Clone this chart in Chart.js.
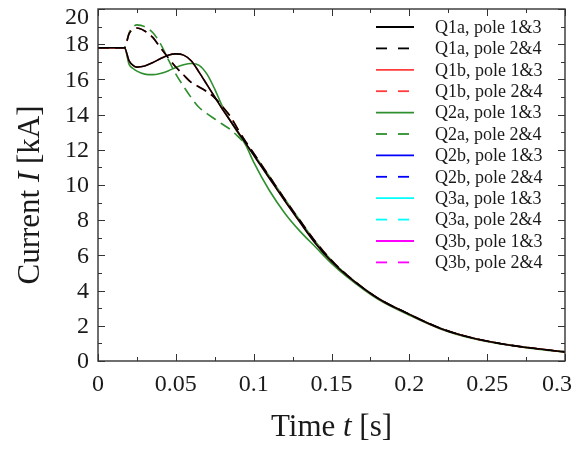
<!DOCTYPE html>
<html>
<head>
<meta charset="utf-8">
<script src="https://cdn.jsdelivr.net/npm/chart.js@4.4.1/dist/chart.umd.min.js"></script>
<style>
  html, body { margin: 0; padding: 0; background: #ffffff; }
  #wrap { width: 576px; height: 449px; position: relative; }
</style>
</head>
<body>
<div id="wrap"><canvas id="c" width="576" height="449"></canvas></div>
<script>
// ---- data ----
const timeS = [0, 0.01, 0.017, 0.02, 0.0225, 0.025, 0.03, 0.035, 0.04, 0.045, 0.05, 0.055, 0.06, 0.065, 0.07, 0.075, 0.08, 0.085, 0.09, 0.095, 0.1, 0.11, 0.12, 0.13, 0.14, 0.15, 0.16, 0.18, 0.2, 0.22, 0.24, 0.26, 0.28, 0.3];

const q1aPole13 = [17.8, 17.8, 17.8, 17.05, 16.8, 16.7, 16.76, 16.95, 17.17, 17.37, 17.45, 17.38, 17.05, 16.4, 15.7, 15.0, 14.3, 13.65, 13.0, 12.35, 11.7, 10.4, 9.1, 7.85, 6.65, 5.65, 4.85, 3.55, 2.65, 1.85, 1.32, 0.97, 0.72, 0.52];
const q1aPole24 = [17.8, 17.8, 17.8, 18.6, 18.85, 18.92, 18.75, 18.4, 17.82, 17.25, 16.7, 16.25, 15.82, 15.57, 15.3, 14.95, 14.45, 13.9, 13.15, 12.45, 11.8, 10.5, 9.2, 7.95, 6.75, 5.72, 4.88, 3.56, 2.66, 1.86, 1.32, 0.97, 0.72, 0.52];
const q1bPole13 = [17.78, 17.78, 17.78, 17.05, 16.8, 16.7, 16.76, 16.95, 17.17, 17.37, 17.45, 17.38, 17.05, 16.4, 15.7, 15.0, 14.3, 13.65, 13.0, 12.35, 11.7, 10.4, 9.1, 7.85, 6.65, 5.65, 4.85, 3.55, 2.65, 1.85, 1.32, 0.97, 0.72, 0.52];
const q1bPole24 = [17.78, 17.78, 17.78, 18.6, 18.85, 18.92, 18.75, 18.4, 17.82, 17.25, 16.7, 16.25, 15.82, 15.57, 15.3, 14.95, 14.45, 13.9, 13.15, 12.45, 11.8, 10.5, 9.2, 7.95, 6.75, 5.72, 4.88, 3.56, 2.66, 1.86, 1.32, 0.97, 0.72, 0.52];
const q2aPole13 = [17.8, 17.8, 17.8, 16.85, 16.62, 16.47, 16.3, 16.27, 16.34, 16.48, 16.68, 16.83, 16.9, 16.8, 16.3, 15.45, 14.45, 13.65, 12.95, 12.25, 11.3, 9.7, 8.4, 7.35, 6.45, 5.55, 4.78, 3.5, 2.6, 1.82, 1.29, 0.95, 0.7, 0.5];
const q2aPole24 = [17.8, 17.8, 17.8, 18.65, 18.98, 19.1, 19.0, 18.68, 18.05, 17.15, 16.3, 15.6, 14.95, 14.4, 14.05, 13.75, 13.45, 13.15, 12.75, 12.3, 11.75, 10.5, 9.2, 7.95, 6.75, 5.72, 4.88, 3.56, 2.66, 1.86, 1.32, 0.97, 0.72, 0.52];
const q2bPole13 = [];
const q2bPole24 = [];
const q3aPole13 = [];
const q3aPole24 = [];
const q3bPole13 = [];
const q3bPole24 = [];

const seriesNames = ['Q1a, pole 1&3', 'Q1a, pole 2&4', 'Q1b, pole 1&3', 'Q1b, pole 2&4', 'Q2a, pole 1&3', 'Q2a, pole 2&4', 'Q2b, pole 1&3', 'Q2b, pole 2&4', 'Q3a, pole 1&3', 'Q3a, pole 2&4', 'Q3b, pole 1&3', 'Q3b, pole 2&4'];
const seriesValues = [q1aPole13, q1aPole24, q1bPole13, q1bPole24, q2aPole13, q2aPole24, q2bPole13, q2bPole24, q3aPole13, q3aPole24, q3bPole13, q3bPole24];

const xTickValues = [0, 0.05, 0.1, 0.15, 0.2, 0.25, 0.3];
const xTickLabels = ['0', '0.05', '0.1', '0.15', '0.2', '0.25', '0.3'];
const yTickValues = [0, 2, 4, 6, 8, 10, 12, 14, 16, 18, 20];
const yTickLabels = ['0', '2', '4', '6', '8', '10', '12', '14', '16', '18', '20'];

// ---- styles ----
const seriesColors = ['#000000', '#000000', '#ff3b3b', '#ff3b3b', '#2e8f2e', '#2e8f2e', '#0000ff', '#0000ff', '#00ffff', '#00ffff', '#ff00ff', '#ff00ff'];
const SERIF = '"Liberation Serif", "DejaVu Serif", serif';
const TEXT = '#1a1a1a';

const datasets = seriesValues.map((vals, i) => ({
  label: seriesNames[i],
  data: vals.map((v, k) => ({ x: timeS[k], y: v })),
  borderColor: seriesColors[i],
  backgroundColor: seriesColors[i],
  borderWidth: 1.6,
  borderDash: i % 2 === 1 ? [11, 6] : [],
  pointRadius: 0,
  fill: false,
  cubicInterpolationMode: 'monotone'
}));

const decorPlugin = {
  id: 'decor',
  afterDatasetsDraw(chart) {
    const { ctx, chartArea: a, scales } = chart;
    const xs = scales.x, ys = scales.y;
    ctx.save();
    // frame
    ctx.strokeStyle = '#333333';
    ctx.lineWidth = 1.4;
    ctx.setLineDash([]);
    ctx.strokeRect(a.left, a.top, a.right - a.left, a.bottom - a.top);
    // ticks (inward, all four sides)
    ctx.lineWidth = 1;
    const tick = (x1, y1, x2, y2) => { ctx.beginPath(); ctx.moveTo(x1, y1); ctx.lineTo(x2, y2); ctx.stroke(); };
    const majL = 7, minL = 4;
    xTickValues.forEach((v, i) => {
      const px = Math.round(xs.getPixelForValue(v)) + 0.5;
      tick(px, a.bottom, px, a.bottom - majL);
      tick(px, a.top, px, a.top + majL);
      if (i < xTickValues.length - 1) {
        const mp = Math.round(xs.getPixelForValue((v + xTickValues[i + 1]) / 2)) + 0.5;
        tick(mp, a.bottom, mp, a.bottom - minL);
        tick(mp, a.top, mp, a.top + minL);
      }
    });
    yTickValues.forEach((v, i) => {
      const py = Math.round(ys.getPixelForValue(v)) + 0.5;
      tick(a.left, py, a.left + majL, py);
      tick(a.right, py, a.right - majL, py);
      if (i < yTickValues.length - 1) {
        const mp = Math.round(ys.getPixelForValue((v + yTickValues[i + 1]) / 2)) + 0.5;
        tick(a.left, mp, a.left + minL, mp);
        tick(a.right, mp, a.right - minL, mp);
      }
    });
    // tick labels
    ctx.fillStyle = TEXT;
    ctx.font = '24px ' + SERIF;
    ctx.textBaseline = 'middle';
    ctx.textAlign = 'center';
    xTickValues.forEach((v, i) => {
      const w = ctx.measureText(xTickLabels[i]).width;
      let px = xs.getPixelForValue(v);
      px = Math.min(px, chart.width - 4 - w / 2);
      ctx.fillText(xTickLabels[i], px, a.bottom + 24);
    });
    ctx.textAlign = 'right';
    yTickValues.forEach((v, i) => {
      let py = ys.getPixelForValue(v) + 1;
      py = Math.max(py, 18);
      ctx.fillText(yTickLabels[i], 89, py);
    });
    // axis titles with italic symbols
    const drawParts = (parts, cx, cy) => {
      let total = 0;
      parts.forEach(p => { ctx.font = p[1] + ' 31px ' + SERIF; p.w = ctx.measureText(p[0]).width; total += p.w; });
      let x0 = cx - total / 2;
      ctx.textAlign = 'left';
      parts.forEach(p => { ctx.font = p[1] + ' 31px ' + SERIF; ctx.fillText(p[0], x0, cy); x0 += p.w; });
    };
    drawParts([['Time ', 'normal'], ['t', 'italic'], [' [s]', 'normal']], (a.left + a.right) / 2, 428);
    ctx.save();
    ctx.translate(31, 195);
    ctx.rotate(-Math.PI / 2);
    drawParts([['Current ', 'normal'], ['I', 'italic'], [' [kA]', 'normal']], 0, 0);
    ctx.restore();
    // legend
    ctx.font = '18px ' + SERIF;
    ctx.textAlign = 'left';
    ctx.textBaseline = 'middle';
    chart.data.datasets.forEach((ds, i) => {
      const y = 27 + i * 21.4;
      ctx.strokeStyle = ds.borderColor;
      ctx.lineWidth = 1.8;
      ctx.setLineDash(ds.borderDash.length ? [11, 11] : []);
      ctx.beginPath(); ctx.moveTo(376, y); ctx.lineTo(414, y); ctx.stroke();
      ctx.setLineDash([]);
      ctx.fillStyle = TEXT;
      ctx.fillText(ds.label, 435, y + 1);
    });
    ctx.restore();
  }
};

new Chart(document.getElementById('c'), {
  type: 'line',
  data: { datasets },
  options: {
    responsive: false,
    animation: false,
    devicePixelRatio: 1,
    layout: { padding: { top: 9, right: 11, bottom: 0, left: 0 } },
    plugins: { legend: { display: false }, tooltip: { enabled: false } },
    scales: {
      x: {
        type: 'linear', min: 0, max: 0.3,
        grid: { display: false }, border: { display: false },
        ticks: { display: false },
        afterFit: s => { s.height = 88; s.paddingLeft = 0; s.paddingRight = 0; }
      },
      y: {
        type: 'linear', min: 0, max: 20,
        grid: { display: false }, border: { display: false },
        ticks: { display: false },
        afterFit: s => { s.width = 98; s.paddingTop = 0; s.paddingBottom = 0; }
      }
    }
  },
  plugins: [decorPlugin]
});
</script>
</body>
</html>
